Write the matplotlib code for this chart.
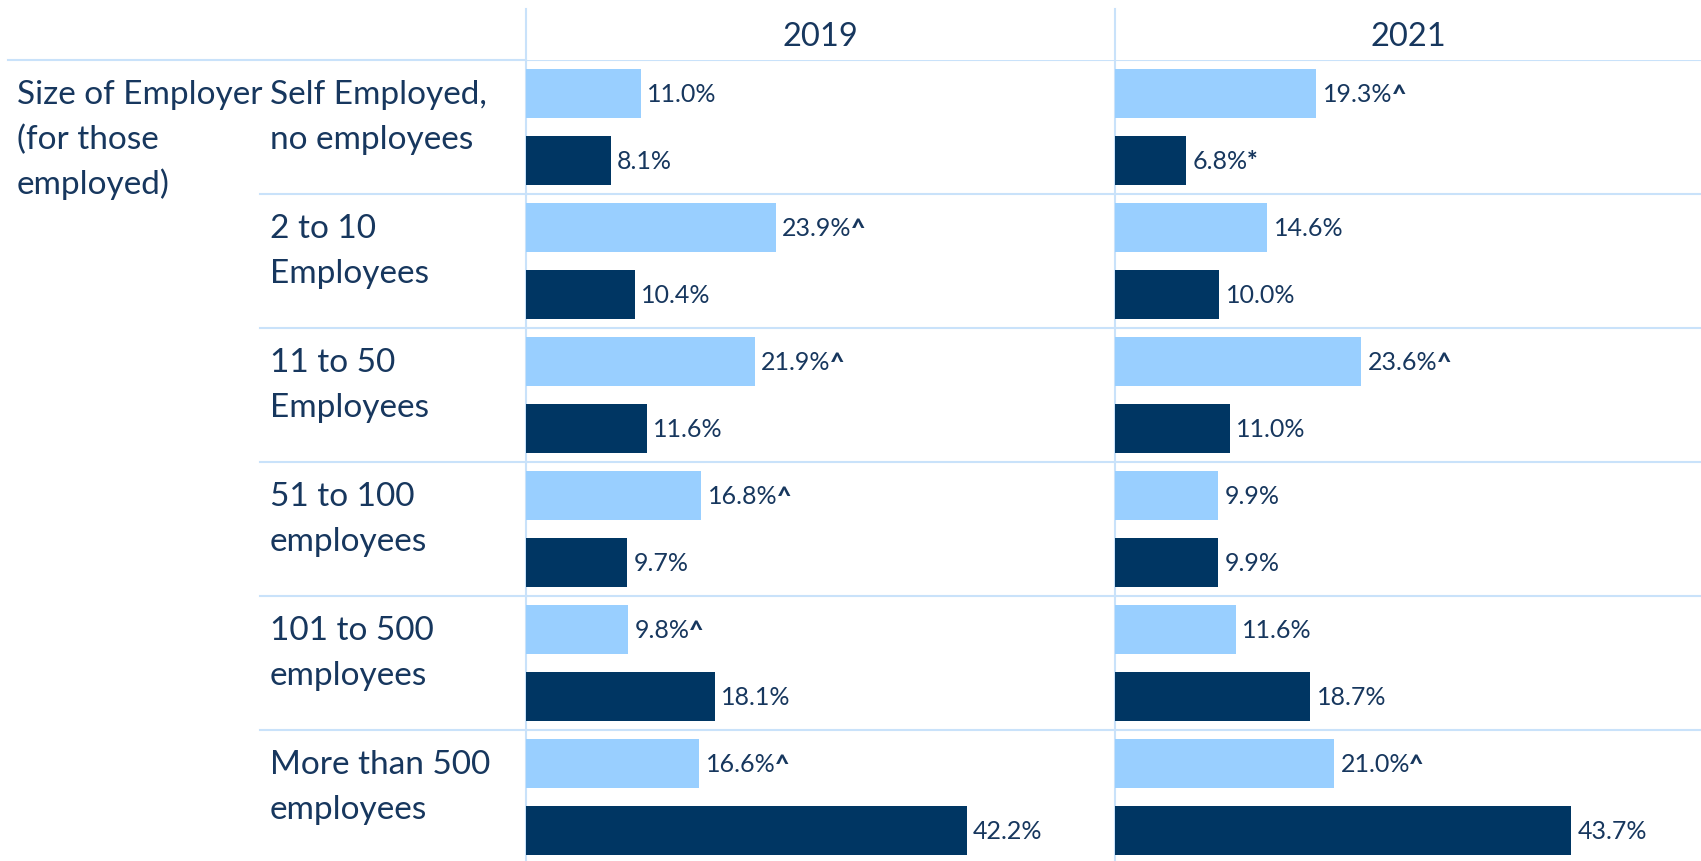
import matplotlib.pyplot as plt

plt.rcParams['font.family'] = ['Lato', 'DejaVu Sans']

categories = [
    'Self Employed,\nno employees',
    '2 to 10\nEmployees',
    '11 to 50\nEmployees',
    '51 to 100\nemployees',
    '101 to 500\nemployees',
    'More than 500\nemployees',
]
group_label = 'Size of Employer\n(for those\nemployed)'
years = ['2019', '2021']

# light series / dark series, per year
light_2019 = [11.0, 23.9, 21.9, 16.8, 9.8, 16.6]
dark_2019 = [8.1, 10.4, 11.6, 9.7, 18.1, 42.2]
light_2021 = [19.3, 14.6, 23.6, 9.9, 11.6, 21.0]
dark_2021 = [6.8, 10.0, 11.0, 9.9, 18.7, 43.7]

# significance markers shown after the labels
light_2019_mark = ['', '^', '^', '^', '^', '^']
dark_2019_mark = ['', '', '', '', '', '']
light_2021_mark = ['^', '', '^', '', '', '^']
dark_2021_mark = ['*', '', '', '', '', '']

LIGHT = '#99CFFF'
DARK = '#003663'
TEXT = '#17375E'
GRID = '#C9E2FA'

W, H = 1701, 862
fig = plt.figure(figsize=(W / 100, H / 100), dpi=100)

top_px = 61
grp_px = 134
n = len(categories)
bot = 1 - (top_px + grp_px * n) / H
hgt = grp_px * n / H
line_step = 44.5 / grp_px  # text line spacing in group units
first_line = 0.255


def px_x(x):
    return x / W


def multiline(ax, x, y0, s, **kw):
    for k, line in enumerate(s.split('\n')):
        ax.text(x, y0 + k * line_step, line, ha='left', va='center', **kw)


# label area
lab = fig.add_axes([0, bot, px_x(526), hgt])
lab.set_xlim(0, 526)
lab.set_ylim(n, 0)
lab.axis('off')
lab.plot([8, 526], [0, 0], color=GRID, lw=1.5, clip_on=False)
for i in range(1, n):
    lab.plot([260, 526], [i, i], color=GRID, lw=1.5, clip_on=False)
for i, c in enumerate(categories):
    multiline(lab, 270, i + first_line, c, fontsize=24, color=TEXT)
multiline(lab, 17, first_line, group_label, fontsize=24, color=TEXT)

panels = [
    (526, 589, light_2019, dark_2019, light_2019_mark, dark_2019_mark),
    (1115, 586, light_2021, dark_2021, light_2021_mark, dark_2021_mark),
]
pos = list(range(n))
for (x0, w, lv, dv, lm, dm), yr in zip(panels, years):
    ax = fig.add_axes([px_x(x0), bot, px_x(w), hgt])
    ax.set_xlim(0, w / 10.44)
    ax.set_ylim(n, 0)
    ax.axis('off')
    for i in range(n):
        ax.axhline(i, color=GRID, lw=1.5, zorder=0)
    ax.axvline(0, ymin=0, ymax=(H - 10 - (H - top_px - grp_px * n)) / (grp_px * n),
               color=GRID, lw=1.5, clip_on=False, zorder=0)
    ax.barh([p + 0.25 for p in pos], lv, height=0.36, color=LIGHT, zorder=2)
    ax.barh([p + 0.75 for p in pos], dv, height=0.36, color=DARK, zorder=2)
    for vals, marks, off in ((lv, lm, 0.25), (dv, dm, 0.75)):
        for p, v, m in zip(pos, vals, marks):
            t = ax.annotate(f'{v:.1f}%', xy=(v, p + off), xytext=(4.5, 0),
                            textcoords='offset points', ha='left', va='center',
                            fontsize=18, color=TEXT)
            if m:
                ax.annotate(m, xy=(1, 0.5), xycoords=t, xytext=(-0.5, 0),
                            textcoords='offset points', ha='left', va='center',
                            fontsize=18, color=TEXT, fontweight='black')
    ax.text(0.5, -0.18, yr, transform=ax.get_yaxis_transform(), ha='center',
            va='center', fontsize=23.5, color=TEXT)

fig.savefig('out.png', dpi=100, facecolor='white')
